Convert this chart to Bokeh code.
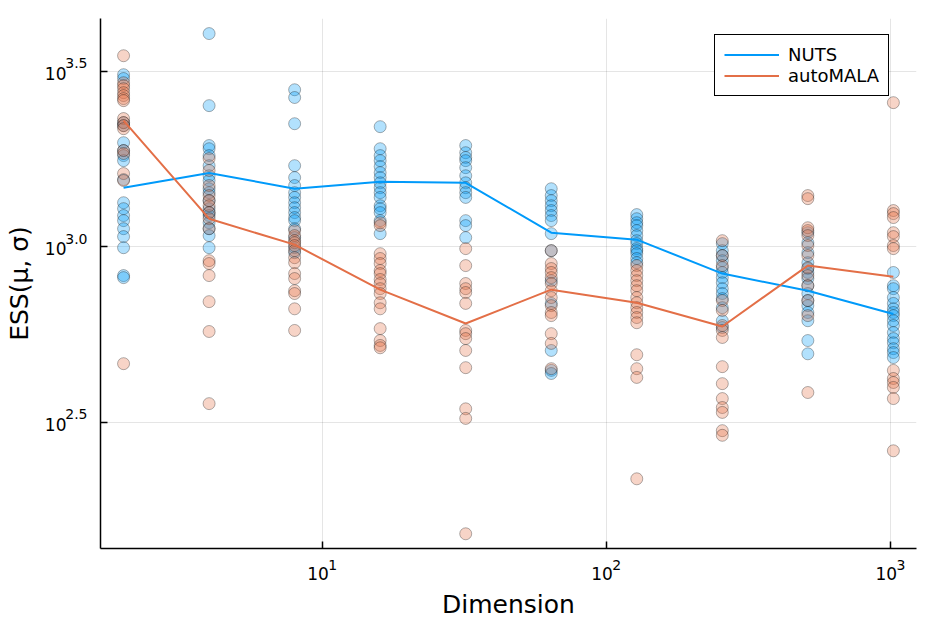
from bokeh.plotting import figure
from bokeh.models import FixedTicker, CustomJSTickFormatter, Legend, LegendItem, LogAxis
from bokeh.embed import file_html
from bokeh.resources import INLINE

# ---------------- data ----------------
dims = [2, 4, 8, 16, 32, 64, 128, 256, 512, 1024]

nuts_ess = [
    [3090, 3013, 2256, 2212, 1978, 1878, 1817, 1758, 1553, 1334, 1283, 1226, 1186, 1125, 1068, 993, 827, 816],
    [4046, 2522, 1941, 1901, 1817, 1701, 1592, 1543, 1462, 1425, 1352, 1283, 1250, 1226, 1170, 1125, 1075, 993],
    [2799, 2660, 2240, 1701, 1573, 1493, 1425, 1381, 1334, 1291, 1250, 1210, 1186, 1125, 1061, 993, 961],
    [2197, 1901, 1817, 1758, 1691, 1625, 1573, 1520, 1472, 1425, 1381, 1308, 1283, 1250, 1186, 1089],
    [1941, 1852, 1795, 1758, 1679, 1592, 1520, 1472, 1425, 1381, 1186, 1148, 1061],
    [1462, 1398, 1352, 1308, 1267, 1226, 1186, 1089, 974, 800, 689, 506, 444, 435],
    [1234, 1201, 1170, 1148, 1111, 1075, 1040, 1020, 987, 974, 955, 925, 900],
    [1020, 974, 943, 912, 871, 844, 816, 789, 759, 735, 711, 670, 615, 588],
    [1096, 1026, 961, 900, 866, 844, 811, 774, 735, 702, 679, 649, 615, 540, 495],
    [844, 774, 759, 716, 689, 665, 649, 636, 615, 596, 569, 547, 532, 512, 499, 483],
]

automala_ess = [
    [3499, 2931, 2876, 2818, 2746, 2694, 2641, 2606, 2317, 2256, 2212, 2168, 1878, 1842, 1615, 1543, 464],
    [1782, 1648, 1493, 1398, 1352, 1308, 1250, 1201, 1125, 912, 895, 827, 697, 573, 357],
    [1111, 1075, 1040, 1026, 1007, 974, 930, 900, 838, 811, 749, 735, 665, 577],
    [1170, 1148, 955, 925, 895, 855, 838, 806, 785, 759, 735, 692, 665, 584, 540, 523, 515],
    [987, 883, 785, 759, 740, 689, 577, 565, 547, 506, 452, 345, 324, 152],
    [974, 895, 866, 844, 816, 785, 749, 716, 679, 649, 636, 565, 530, 449],
    [883, 855, 827, 800, 774, 749, 716, 692, 670, 649, 628, 607, 492, 449, 424, 218],
    [1040, 943, 883, 702, 658, 596, 577, 551, 455, 407, 369, 348, 337, 299, 290],
    [1398, 1370, 1132, 1111, 1075, 1007, 943, 871, 827, 774, 702, 636, 384],
    [2572, 1267, 1242, 1210, 1096, 1068, 1007, 987, 444, 421, 410, 397, 369, 262],
]

nuts_mean = [1472, 1622, 1462, 1530, 1520, 1096, 1047, 838, 749, 643]
automala_mean = [2286, 1201, 1013, 754, 604, 754, 692, 592, 883, 821]

series_names = ["NUTS", "autoMALA"]
x_tick_values = [10, 100, 1000]
x_tick_bases = ["10", "10", "10"]
x_tick_exponents = ["1", "2", "3"]
y_tick_values = [10 ** 2.5, 10 ** 3.0, 10 ** 3.5]
y_tick_bases = ["10", "10", "10"]
y_tick_exponents = ["2.5", "3.0", "3.5"]

# ---------------- style ----------------
NUTS_COLOR = "#009AFA"
AUTO_COLOR = "#E36F47"
FONT = "DejaVu Sans"
X_LO, X_HI = 1.659, 1235.0
Y_LO, Y_HI = 138.0, 4467.0
PX_PER_DECADE_X = 284.1
PX_PER_DECADE_Y = 351.0
Y_EXP_RAISE_PX = 8
Y_BASE_DROP_PX = 2
X_BASE_SHIFT_PX = -4.2
X_EXP_SHIFT_PX = 10.5


def flatten(values):
    xs, ys = [], []
    for d, vals in zip(dims, values):
        xs += [d] * len(vals)
        ys += vals
    return xs, ys


def shifted(ticks, px, per_decade):
    return [t * 10 ** (px / per_decade) for t in ticks]


p = figure(width=934, height=623, x_axis_type="log", y_axis_type="log",
           x_range=(X_LO, X_HI), y_range=(Y_LO, Y_HI),
           output_backend="svg", toolbar_location=None,
           min_border_left=100, min_border_right=18, min_border_top=18, min_border_bottom=75)
p.outline_line_color = None
p.background_fill_color = "white"

for vals, col in ((nuts_ess, NUTS_COLOR), (automala_ess, AUTO_COLOR)):
    xs, ys = flatten(vals)
    p.scatter(xs, ys, marker="circle", size=12, fill_color=col, fill_alpha=0.3,
              line_color="black", line_alpha=0.3, line_width=1)

r_nuts = p.line(dims, nuts_mean, line_color=NUTS_COLOR, line_width=2)
r_auto = p.line(dims, automala_mean, line_color=AUTO_COLOR, line_width=2)

legend = Legend(items=[LegendItem(label=series_names[0], renderers=[r_nuts]),
                       LegendItem(label=series_names[1], renderers=[r_auto])],
                location=(614, 452), padding=9, spacing=0, margin=0,
                glyph_width=55, glyph_height=19, label_height=19, label_standoff=9,
                label_text_font=FONT, label_text_font_size="18px", label_text_color="black",
                border_line_color="black", border_line_width=1, border_line_alpha=1,
                background_fill_color="white", background_fill_alpha=1)
p.add_layout(legend)


def style_axis(ax, font_size, standoff, visible_line):
    ax.minor_tick_line_color = None
    ax.major_label_text_font = FONT
    ax.major_label_text_color = "black"
    ax.major_label_text_font_size = font_size
    ax.major_label_standoff = standoff
    ax.axis_label_text_font = FONT
    ax.axis_label_text_font_size = "25px"
    ax.axis_label_text_font_style = "normal"
    ax.axis_label_text_color = "black"
    ax.major_tick_out = 0
    if visible_line:
        ax.major_tick_in = 7
        ax.axis_line_color = "black"
        ax.axis_line_width = 1.5
        ax.major_tick_line_color = "black"
        ax.major_tick_line_width = 1.5
    else:
        ax.major_tick_in = 0
        ax.axis_line_color = None
        ax.major_tick_line_color = None


def label_axis(ticks, labels, font_size, standoff):
    ax = LogAxis(ticker=FixedTicker(ticks=ticks),
                 formatter=CustomJSTickFormatter(args=dict(labels=labels), code="return labels[index]"))
    style_axis(ax, font_size, standoff, False)
    return ax


# ----- x axes: tick marks, superscript exponents, base "10" + title -----
xa = p.xaxis[0]
xa.ticker = FixedTicker(ticks=x_tick_values)
xa.formatter = CustomJSTickFormatter(code="return ''")
style_axis(xa, "1px", 0, True)

x_exp = label_axis(shifted(x_tick_values, X_EXP_SHIFT_PX, PX_PER_DECADE_X), x_tick_exponents, "14px", 11)
p.add_layout(x_exp, "below")
x_base = label_axis(shifted(x_tick_values, X_BASE_SHIFT_PX, PX_PER_DECADE_X), x_tick_bases, "17px", -6)
x_base.axis_label = "Dimension"
x_base.axis_label_standoff = 7
p.add_layout(x_base, "below")

# ----- y axes: tick marks, superscript exponents, base "10" + title -----
ya = p.yaxis[0]
ya.ticker = FixedTicker(ticks=y_tick_values)
ya.formatter = CustomJSTickFormatter(code="return ''")
style_axis(ya, "1px", 0, True)

y_exp = label_axis(shifted(y_tick_values, Y_EXP_RAISE_PX, PX_PER_DECADE_Y), y_tick_exponents, "14px", 13)
p.add_layout(y_exp, "left")
y_base = label_axis(shifted(y_tick_values, -Y_BASE_DROP_PX, PX_PER_DECADE_Y), y_tick_bases, "17px", -4)
y_base.axis_label = "ESS(μ, σ)"
y_base.axis_label_standoff = 8
p.add_layout(y_base, "left")

p.xgrid.ticker = FixedTicker(ticks=x_tick_values)
p.ygrid.ticker = FixedTicker(ticks=y_tick_values)
for g in (p.xgrid, p.ygrid):
    g.grid_line_color = "black"
    g.grid_line_alpha = 0.1
    g.grid_line_width = 1

open("out.html", "w").write(file_html(p, INLINE))
